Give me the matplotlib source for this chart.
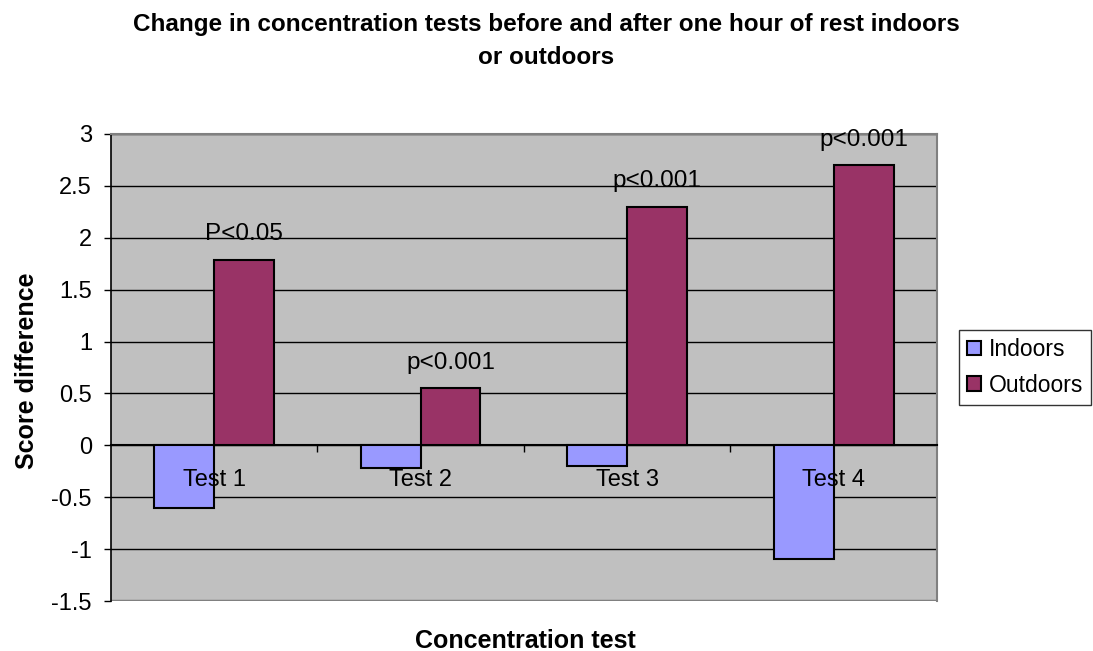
import numpy as np
import matplotlib
matplotlib.use('Agg')
from matplotlib import pyplot as plt

# data
tests = ['Test 1', 'Test 2', 'Test 3', 'Test 4']
indoors = [-0.6, -0.22, -0.2, -1.1]
outdoors = [1.79, 0.55, 2.3, 2.7]
p_labels = ['P<0.05', 'p<0.001', 'p<0.001', 'p<0.001']

plt.rcParams['font.family'] = ['Liberation Sans', 'DejaVu Sans']

fig = plt.figure(figsize=(10.93, 6.51), dpi=100)
ax = fig.add_axes([0.1013, 0.0768, 0.7560, 0.7174])
ax.set_facecolor('#C0C0C0')

x = np.arange(len(tests))
w = 0.29
ax.bar(x - w / 2, indoors, w, color='#9999FF', edgecolor='black', linewidth=1.5,
       label='Indoors', zorder=3)
ax.bar(x + w / 2, outdoors, w, color='#993366', edgecolor='black', linewidth=1.5,
       label='Outdoors', zorder=3)

# p-value labels above outdoors bars
for xi, v, t in zip(x, outdoors, p_labels):
    ax.annotate(t, (xi + w / 2, v), xytext=(0, 14), textcoords='offset points',
                ha='center', va='baseline', fontsize=17.5, zorder=4)

ax.set_xlim(-0.5, 3.5)
ax.set_ylim(-1.5, 3)
ax.set_yticks(np.arange(-1.5, 3.01, 0.5))
ax.set_yticklabels(['-1.5', '-1', '-0.5', '0', '0.5', '1', '1.5', '2', '2.5', '3'])
ax.yaxis.grid(True, color='black', linewidth=1)
ax.set_axisbelow(True)
ax.xaxis.set_zorder(5)
ax.tick_params(axis='y', direction='out', length=5, width=1, pad=8.5,
               labelsize=17)

# x axis crosses at zero
ax.spines['bottom'].set_position(('data', 0))
ax.spines['bottom'].set_color('black')
ax.spines['bottom'].set_linewidth(1.5)
ax.spines['bottom'].set_zorder(2.5)
ax.set_xticks([0.5, 1.5, 2.5])
ax.set_xticklabels([])
ax.set_xticks(x, minor=True)
ax.set_xticklabels(tests, minor=True)
ax.tick_params(axis='x', which='major', direction='out', length=5, width=1)
ax.tick_params(axis='x', which='minor', length=0, pad=17, labelsize=17)

ax.spines['left'].set_color('black')
ax.spines['left'].set_linewidth(1.2)
ax.spines['top'].set_color('#808080')
ax.spines['right'].set_color('#808080')
ax.spines['top'].set_linewidth(1.5)
ax.spines['right'].set_linewidth(1.5)
ax.axhline(-1.5, color='#808080', linewidth=2.5, zorder=2)

fig.text(0.5, 1 - 41 / 651, 'Change in concentration tests before and after one hour of rest indoors\nor outdoors',
         ha='center', va='center', fontsize=17.5, fontweight='bold', linespacing=1.5)
fig.text(27 / 1093, 1 - 371 / 651, 'Score difference', rotation=90, ha='center', va='center',
         fontsize=18, fontweight='bold')
fig.text(525 / 1093, 1 - 641 / 651, 'Concentration test', ha='center', va='center',
         fontsize=18, fontweight='bold')

leg = fig.legend(loc='center left', bbox_to_anchor=(959 / 1093, 1 - 367.5 / 651),
                 fontsize=16.5, frameon=True, fancybox=False, edgecolor='black',
                 handlelength=0.6, handleheight=0.6, handletextpad=0.35,
                 borderpad=0.35, labelspacing=0.55, borderaxespad=0)
leg.get_frame().set_linewidth(1)

fig.savefig('out.png', dpi=100)
